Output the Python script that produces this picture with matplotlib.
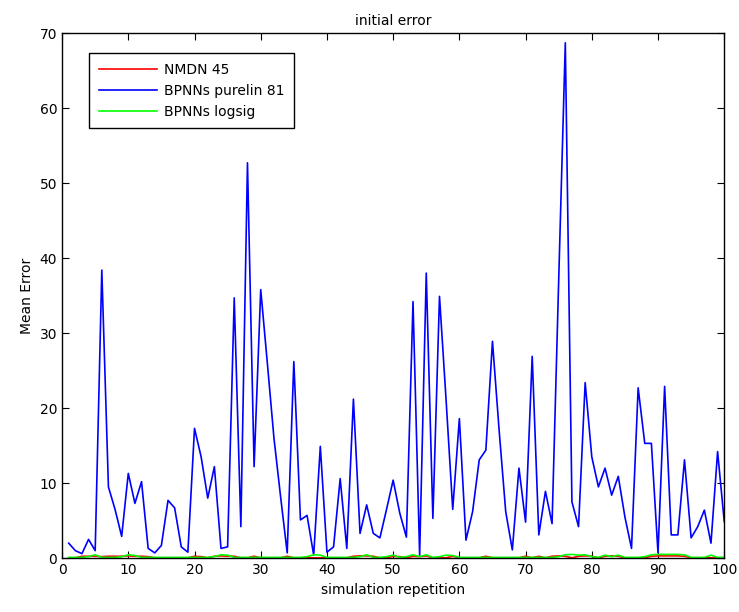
import matplotlib
matplotlib.use("Agg")
import matplotlib.pyplot as plt

plt.rcParams['font.family'] = ['DejaVu Sans']

x = list(range(1, 101))

nmdn = [0.05, 0.05, 0.25, 0.25, 0.25, 0.2, 0.25, 0.25, 0.25, 0.3,
        0.25, 0.25, 0.2, 0.05, 0.05, 0.05, 0.05, 0.05, 0.05, 0.25,
        0.2, 0.05, 0.25, 0.3, 0.25, 0.25, 0.05, 0.05, 0.25, 0.05,
        0.05, 0.05, 0.05, 0.25, 0.05, 0.05, 0.05, 0.05, 0.05, 0.05,
        0.05, 0.05, 0.05, 0.25, 0.3, 0.3, 0.25, 0.05, 0.05, 0.25,
        0.2, 0.05, 0.25, 0.2, 0.3, 0.05, 0.05, 0.05, 0.25, 0.05,
        0.05, 0.05, 0.05, 0.25, 0.05, 0.05, 0.05, 0.05, 0.05, 0.25,
        0.05, 0.25, 0.05, 0.25, 0.3, 0.25, 0.05, 0.25, 0.3, 0.25,
        0.05, 0.25, 0.3, 0.25, 0.05, 0.05, 0.05, 0.05, 0.25, 0.3,
        0.3, 0.3, 0.3, 0.25, 0.05, 0.05, 0.05, 0.05, 0.05, 0.05]

purelin = [2.0, 1.0, 0.6, 2.5, 1.0, 38.4, 9.5, 6.5, 2.9, 11.3,
           7.3, 10.2, 1.3, 0.7, 1.7, 7.7, 6.7, 1.5, 0.8, 17.3,
           13.5, 8.0, 12.2, 1.3, 1.5, 34.7, 4.2, 52.7, 12.2, 35.8,
           26.0, 16.0, 8.2, 0.7, 26.2, 5.1, 5.7, 0.4, 14.9, 0.8,
           1.5, 10.6, 1.3, 21.2, 3.3, 7.1, 3.3, 2.7, 6.5, 10.4,
           6.0, 2.8, 34.2, 0.4, 38.0, 5.3, 34.9, 21.0, 6.5, 18.6,
           2.4, 6.2, 13.1, 14.4, 28.9, 17.1, 6.2, 1.1, 12.0, 4.8,
           26.9, 3.1, 8.9, 4.6, 37.0, 68.7, 7.5, 4.2, 23.4, 13.5,
           9.5, 12.0, 8.4, 10.9, 5.5, 1.3, 22.7, 15.3, 15.3, 0.7,
           22.9, 3.1, 3.1, 13.1, 2.7, 4.2, 6.4, 2.0, 14.2, 4.9]

logsig = [0.1, 0.1, 0.1, 0.2, 0.45, 0.1, 0.1, 0.1, 0.2, 0.45,
          0.35, 0.1, 0.1, 0.1, 0.1, 0.1, 0.1, 0.1, 0.1, 0.1,
          0.1, 0.1, 0.2, 0.45, 0.4, 0.1, 0.1, 0.1, 0.1, 0.1,
          0.1, 0.1, 0.1, 0.1, 0.1, 0.1, 0.2, 0.45, 0.4, 0.1,
          0.1, 0.1, 0.1, 0.1, 0.2, 0.45, 0.1, 0.1, 0.2, 0.4,
          0.1, 0.2, 0.45, 0.2, 0.45, 0.1, 0.2, 0.4, 0.35, 0.1,
          0.1, 0.1, 0.1, 0.1, 0.1, 0.1, 0.1, 0.1, 0.1, 0.1,
          0.1, 0.1, 0.1, 0.1, 0.2, 0.45, 0.5, 0.4, 0.45, 0.2,
          0.1, 0.4, 0.2, 0.4, 0.1, 0.1, 0.1, 0.2, 0.45, 0.5,
          0.5, 0.5, 0.5, 0.45, 0.1, 0.1, 0.1, 0.4, 0.1, 0.1]

fig = plt.figure(figsize=(7.39, 6.12), dpi=100)
ax = fig.add_axes([0.084, 0.088, 0.896, 0.858])

ax.plot(x, nmdn, color=(1, 0, 0), lw=1.2, label="NMDN 45")
ax.plot(x, purelin, color=(0, 0, 1), lw=1.2, label="BPNNs purelin 81")
ax.plot(x, logsig, color=(0, 1, 0), lw=1.2, label="BPNNs logsig")

ax.set_xlim(0, 100)
ax.set_ylim(0, 70)
ax.set_xticks(range(0, 101, 10))
ax.set_yticks(range(0, 71, 10))
ax.tick_params(direction="in", top=True, right=True, labelsize=10, length=5)
for s in ax.spines.values():
    s.set_linewidth(1.0)

ax.set_title("initial error", fontsize=10)
ax.set_xlabel("simulation repetition", fontsize=10)
ax.set_ylabel("Mean Error", fontsize=10)

leg = ax.legend(loc="upper left", bbox_to_anchor=(0.041, 0.962), borderaxespad=0,
                fancybox=False, edgecolor="black", framealpha=1, fontsize=10,
                handlelength=4.2, handletextpad=0.5, labelspacing=0.5,
                borderpad=0.7)
leg.get_frame().set_linewidth(1.0)

fig.savefig("out.png", dpi=100)
